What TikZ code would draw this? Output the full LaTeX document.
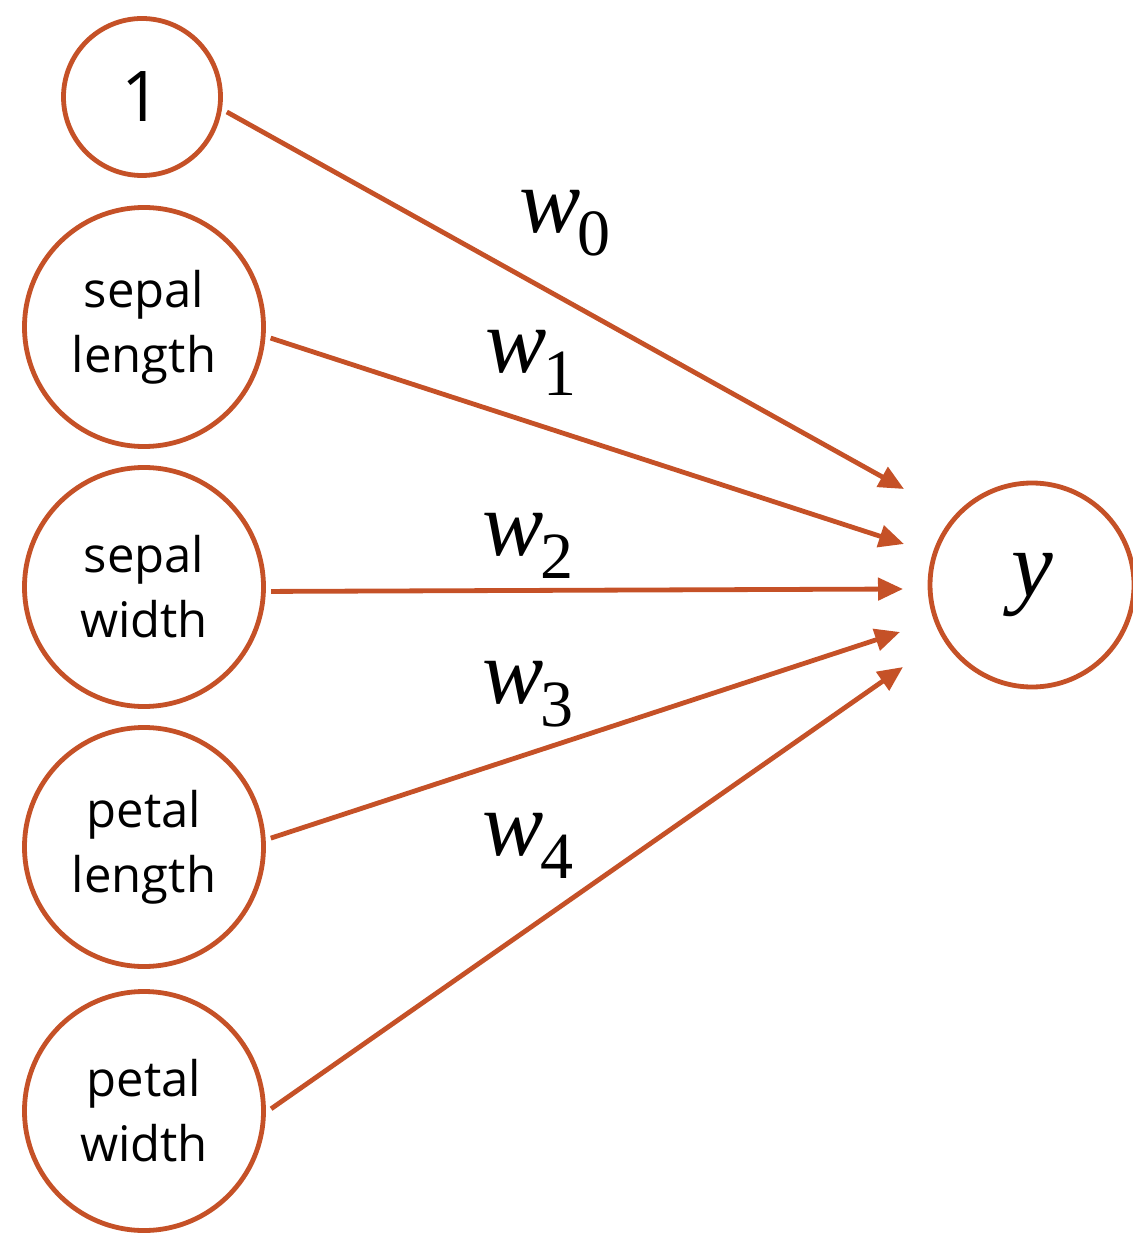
\documentclass[tikz,border=0pt]{standalone}
\usepackage{fontspec}
\setmainfont{Open Sans}
\newfontfamily\mathserif{Liberation Serif}
\usetikzlibrary{arrows.meta}
\definecolor{edgeorange}{RGB}{197,81,39}

% weight label: italic w with an upright, lowered index
\newcommand{\wlabel}[1]{{\fontsize{46}{46}\mathserif\itshape w}\kern-1.5pt\raisebox{-11.5pt}{\fontsize{33}{33}\mathserif #1}}

\begin{document}
\begin{tikzpicture}[x=0.5pt,y=-0.5pt,
  unit/.style={circle,draw=edgeorange,line width=2.4pt,fill=white,inner sep=0pt,
    outer sep=3.8pt,align=center,font=\fontsize{24.5}{32.5}\selectfont},
  feature/.style={unit,minimum size=119.5pt},
  bias/.style={unit,minimum size=78.5pt,font=\fontsize{35}{35}\selectfont},
  output/.style={unit,minimum size=102pt,outer sep=0pt},
  weight/.style={anchor=base west,inner sep=0pt},
  arr/.style={draw=edgeorange,line width=2.4pt,-{Triangle[length=12.5pt,width=11pt]}}
]
\useasboundingbox (0,0) rectangle (1132,1234);

% input units
\node[bias]    (one) at (142,97)   {1};
\node[feature] (sl)  at (144,327)  {sepal\\length};
\node[feature] (sw)  at (144,587)  {sepal\\width};
\node[feature] (pl)  at (144,847)  {petal\\length};
\node[feature] (pw)  at (144,1111) {petal\\width};

% output unit
\node[output] (out) at (1032,585) {\fontsize{47}{47}\mathserif\itshape y};

% arrow tips in front of the output unit
\coordinate (t0) at (904,489);
\coordinate (t1) at (904,544);
\coordinate (t2) at (903,589);
\coordinate (t3) at (900,632);
\coordinate (t4) at (903,667);

% weighted connections
\draw[arr] (one.-10.5) -- (t0);
\draw[arr] (sl.-5.4)   -- (t1);
\draw[arr] (sw.-2.2)   -- (t2);
\draw[arr] (pl.4.5)    -- (t3);
\draw[arr] (pw.1.3)    -- (t4);

% weight labels
\node[weight] (w0) at (519,233) {\wlabel{0}};
\node[weight] (w1) at (485,373) {\wlabel{1}};
\node[weight] (w2) at (482,555) {\wlabel{2}};
\node[weight] (w3) at (482,703) {\wlabel{3}};
\node[weight] (w4) at (482,855) {\wlabel{4}};
\end{tikzpicture}
\end{document}
